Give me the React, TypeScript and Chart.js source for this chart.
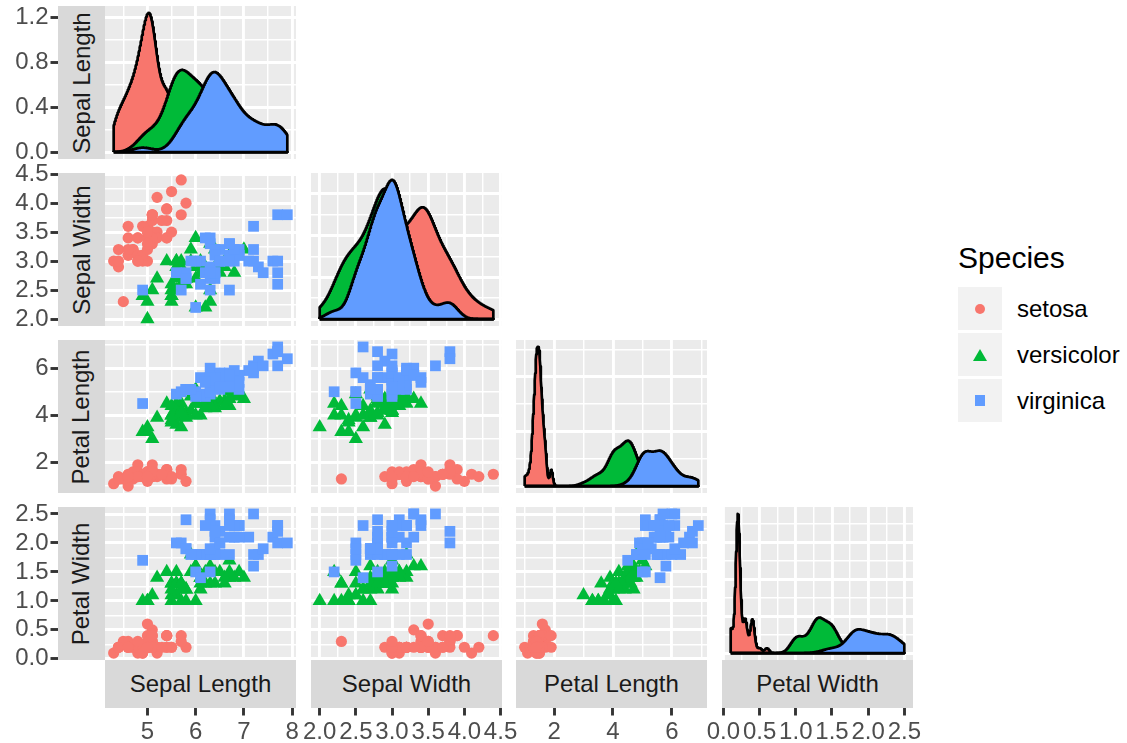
import React, { useEffect, useRef } from 'react';
import { Chart, registerables } from 'chart.js';

Chart.register(...registerables);
Chart.defaults.font.family = "'Liberation Sans', Arial, sans-serif";

// ---------------- DATA (Edgar Anderson's iris) ----------------
const speciesNames = ['setosa', 'versicolor', 'virginica'];
const speciesColors = ['#F8766D', '#00BA38', '#619CFF'];
const variableLabels = ['Sepal Length', 'Sepal Width', 'Petal Length', 'Petal Width'];

const setosaSepalLength = [5.1, 4.9, 4.7, 4.6, 5.0, 5.4, 4.6, 5.0, 4.4, 4.9, 5.4, 4.8, 4.8, 4.3, 5.8, 5.7, 5.4, 5.1, 5.7, 5.1, 5.4, 5.1, 4.6, 5.1, 4.8, 5.0, 5.0, 5.2, 5.2, 4.7, 4.8, 5.4, 5.2, 5.5, 4.9, 5.0, 5.5, 4.9, 4.4, 5.1, 5.0, 4.5, 4.4, 5.0, 5.1, 4.8, 5.1, 4.6, 5.3, 5.0];
const setosaSepalWidth = [3.5, 3.0, 3.2, 3.1, 3.6, 3.9, 3.4, 3.4, 2.9, 3.1, 3.7, 3.4, 3.0, 3.0, 4.0, 4.4, 3.9, 3.5, 3.8, 3.8, 3.4, 3.7, 3.6, 3.3, 3.4, 3.0, 3.4, 3.5, 3.4, 3.2, 3.1, 3.4, 4.1, 4.2, 3.1, 3.2, 3.5, 3.6, 3.0, 3.4, 3.5, 2.3, 3.2, 3.5, 3.8, 3.0, 3.8, 3.2, 3.7, 3.3];
const setosaPetalLength = [1.4, 1.4, 1.3, 1.5, 1.4, 1.7, 1.4, 1.5, 1.4, 1.5, 1.5, 1.6, 1.4, 1.1, 1.2, 1.5, 1.3, 1.4, 1.7, 1.5, 1.7, 1.5, 1.0, 1.7, 1.9, 1.6, 1.6, 1.5, 1.4, 1.6, 1.6, 1.5, 1.5, 1.4, 1.5, 1.2, 1.3, 1.4, 1.3, 1.5, 1.3, 1.3, 1.3, 1.6, 1.9, 1.4, 1.6, 1.4, 1.5, 1.4];
const setosaPetalWidth = [0.2, 0.2, 0.2, 0.2, 0.2, 0.4, 0.3, 0.2, 0.2, 0.1, 0.2, 0.2, 0.1, 0.1, 0.2, 0.4, 0.4, 0.3, 0.3, 0.3, 0.2, 0.4, 0.2, 0.5, 0.2, 0.2, 0.4, 0.2, 0.2, 0.2, 0.2, 0.4, 0.1, 0.2, 0.2, 0.2, 0.2, 0.1, 0.2, 0.2, 0.3, 0.3, 0.2, 0.6, 0.4, 0.3, 0.2, 0.2, 0.2, 0.2];

const versicolorSepalLength = [7.0, 6.4, 6.9, 5.5, 6.5, 5.7, 6.3, 4.9, 6.6, 5.2, 5.0, 5.9, 6.0, 6.1, 5.6, 6.7, 5.6, 5.8, 6.2, 5.6, 5.9, 6.1, 6.3, 6.1, 6.4, 6.6, 6.8, 6.7, 6.0, 5.7, 5.5, 5.5, 5.8, 6.0, 5.4, 6.0, 6.7, 6.3, 5.6, 5.5, 5.5, 6.1, 5.8, 5.0, 5.6, 5.7, 5.7, 6.2, 5.1, 5.7];
const versicolorSepalWidth = [3.2, 3.2, 3.1, 2.3, 2.8, 2.8, 3.3, 2.4, 2.9, 2.7, 2.0, 3.0, 2.2, 2.9, 2.9, 3.1, 3.0, 2.7, 2.2, 2.5, 3.2, 2.8, 2.5, 2.8, 2.9, 3.0, 2.8, 3.0, 2.9, 2.6, 2.4, 2.4, 2.7, 2.7, 3.0, 3.4, 3.1, 2.3, 3.0, 2.5, 2.6, 3.0, 2.6, 2.3, 2.7, 3.0, 2.9, 2.9, 2.5, 2.8];
const versicolorPetalLength = [4.7, 4.5, 4.9, 4.0, 4.6, 4.5, 4.7, 3.3, 4.6, 3.9, 3.5, 4.2, 4.0, 4.7, 3.6, 4.4, 4.5, 4.1, 4.5, 3.9, 4.8, 4.0, 4.9, 4.7, 4.3, 4.4, 4.8, 5.0, 4.5, 3.5, 3.8, 3.7, 3.9, 5.1, 4.5, 4.5, 4.7, 4.4, 4.1, 4.0, 4.4, 4.6, 4.0, 3.3, 4.2, 4.2, 4.2, 4.3, 3.0, 4.1];
const versicolorPetalWidth = [1.4, 1.5, 1.5, 1.3, 1.5, 1.3, 1.6, 1.0, 1.3, 1.4, 1.0, 1.5, 1.0, 1.4, 1.3, 1.4, 1.5, 1.0, 1.5, 1.1, 1.8, 1.3, 1.5, 1.2, 1.3, 1.4, 1.4, 1.7, 1.5, 1.0, 1.1, 1.0, 1.2, 1.6, 1.5, 1.6, 1.5, 1.3, 1.3, 1.3, 1.2, 1.4, 1.2, 1.0, 1.3, 1.2, 1.3, 1.3, 1.1, 1.3];

const virginicaSepalLength = [6.3, 5.8, 7.1, 6.3, 6.5, 7.6, 4.9, 7.3, 6.7, 7.2, 6.5, 6.4, 6.8, 5.7, 5.8, 6.4, 6.5, 7.7, 7.7, 6.0, 6.9, 5.6, 7.7, 6.3, 6.7, 7.2, 6.2, 6.1, 6.4, 7.2, 7.4, 7.9, 6.4, 6.3, 6.1, 7.7, 6.3, 6.4, 6.0, 6.9, 6.7, 6.9, 5.8, 6.8, 6.7, 6.7, 6.3, 6.5, 6.2, 5.9];
const virginicaSepalWidth = [3.3, 2.7, 3.0, 2.9, 3.0, 3.0, 2.5, 2.9, 2.5, 3.6, 3.2, 2.7, 3.0, 2.5, 2.8, 3.2, 3.0, 3.8, 2.6, 2.2, 3.2, 2.8, 2.8, 2.7, 3.3, 3.2, 2.8, 3.0, 2.8, 3.0, 2.8, 3.8, 2.8, 2.8, 2.6, 3.0, 3.4, 3.1, 3.0, 3.1, 3.1, 3.1, 2.7, 3.2, 3.3, 3.0, 2.5, 3.0, 3.4, 3.0];
const virginicaPetalLength = [6.0, 5.1, 5.9, 5.6, 5.8, 6.6, 4.5, 6.3, 5.8, 6.1, 5.1, 5.3, 5.5, 5.0, 5.1, 5.3, 5.5, 6.7, 6.9, 5.0, 5.7, 4.9, 6.7, 4.9, 5.7, 6.0, 4.8, 4.9, 5.6, 5.8, 6.1, 6.4, 5.6, 5.1, 5.6, 6.1, 5.6, 5.5, 4.8, 5.4, 5.6, 5.1, 5.1, 5.9, 5.7, 5.2, 5.0, 5.2, 5.4, 5.1];
const virginicaPetalWidth = [2.5, 1.9, 2.1, 1.8, 2.2, 2.1, 1.7, 1.8, 1.8, 2.5, 2.0, 1.9, 2.1, 2.0, 2.4, 2.3, 1.8, 2.2, 2.3, 1.5, 2.3, 2.0, 2.0, 1.8, 2.1, 1.8, 1.8, 1.8, 2.1, 1.6, 1.9, 2.0, 2.2, 1.5, 1.4, 2.3, 2.4, 1.8, 1.8, 2.1, 2.4, 2.3, 1.9, 2.3, 2.5, 2.3, 1.9, 2.0, 2.3, 1.8];

// tick labels (major breaks) for each variable axis
const sepalLengthTicks = [5, 6, 7, 8];
const sepalWidthTicks = [2.0, 2.5, 3.0, 3.5, 4.0, 4.5];
const petalLengthTicks = [2, 4, 6];
const petalWidthTicks = [0.0, 0.5, 1.0, 1.5, 2.0, 2.5];
const tickDecimals = [0, 1, 0, 1];
// density axis breaks of the diagonal panels
const sepalLengthDensityTicks = [0.0, 0.4, 0.8, 1.2];
const sepalWidthDensityTicks = [0.0, 0.4, 0.8];
const petalLengthDensityTicks = [0, 1, 2];
const petalWidthDensityTicks = [0, 2, 4, 6, 8];

const speciesData = [
  [setosaSepalLength, setosaSepalWidth, setosaPetalLength, setosaPetalWidth],
  [versicolorSepalLength, versicolorSepalWidth, versicolorPetalLength, versicolorPetalWidth],
  [virginicaSepalLength, virginicaSepalWidth, virginicaPetalLength, virginicaPetalWidth],
];
const variableTicks = [sepalLengthTicks, sepalWidthTicks, petalLengthTicks, petalWidthTicks];
const densityTicks = [sepalLengthDensityTicks, sepalWidthDensityTicks, petalLengthDensityTicks, petalWidthDensityTicks];

// ---------------- STATS (ggplot-like density) ----------------
function quantile7(sorted: number[], p: number) {
  const h = (sorted.length - 1) * p;
  const lo = Math.floor(h);
  const hi = Math.ceil(h);
  return sorted[lo] + (h - lo) * (sorted[hi] - sorted[lo]);
}
function bwNrd0(x: number[]) {
  const n = x.length;
  const mean = x.reduce((a, b) => a + b, 0) / n;
  const sd = Math.sqrt(x.reduce((a, b) => a + (b - mean) * (b - mean), 0) / (n - 1));
  const s = [...x].sort((a, b) => a - b);
  const iqr = quantile7(s, 0.75) - quantile7(s, 0.25);
  let lo = Math.min(sd, iqr / 1.34);
  if (!(lo > 0)) lo = sd || 1;
  return 0.9 * lo * Math.pow(n, -0.2);
}
function kde(x: number[], grid: number[]) {
  const bw = bwNrd0(x);
  const c = 1 / (x.length * bw * Math.sqrt(2 * Math.PI));
  return grid.map((g) => {
    let s = 0;
    for (const xi of x) {
      const z = (g - xi) / bw;
      s += Math.exp(-0.5 * z * z);
    }
    return s * c;
  });
}

const allValues = (v: number) => speciesData.flatMap((sp) => sp[v]);
const dataRange = [0, 1, 2, 3].map((v) => {
  const a = allValues(v);
  return [Math.min(...a), Math.max(...a)];
});
const axisRange = dataRange.map(([lo, hi]) => {
  const e = 0.05 * (hi - lo);
  return [lo - e, hi + e];
});
const densities = [0, 1, 2, 3].map((v) => {
  const [lo, hi] = dataRange[v];
  const n = 512;
  const grid = Array.from({ length: n }, (_, i) => lo + ((hi - lo) * i) / (n - 1));
  const ys = speciesData.map((sp) => kde(sp[v], grid));
  return { grid, ys };
});
const densityRange = densities.map((d) => {
  const m = Math.max(...d.ys.flat());
  return [-0.05 * m, 1.05 * m];
});

function gridValues(majors: number[], min: number, max: number) {
  const step = majors[1] - majors[0];
  const half = step / 2;
  const out: { value: number; major: boolean }[] = [];
  const kStart = Math.ceil((min - majors[0]) / half - 1e-9);
  const kEnd = Math.floor((max - majors[0]) / half + 1e-9);
  for (let k = kStart; k <= kEnd; k++) {
    out.push({ value: majors[0] + k * half, major: k % 2 === 0 });
  }
  return out;
}

// ---------------- LAYOUT ----------------
const COL_LEFT = [105, 311, 516, 722];
const ROW_TOP = [6, 173, 340, 507];
const PANEL_W = 191;
const PANEL_H = 153;
const STRIP_LEFT = 58;
const STRIP_SIZE = 47;
const BOTTOM_STRIP_TOP = 660;
const BOTTOM_STRIP_H = 48;
const FONT = "'Liberation Sans', Arial, sans-serif";

const pointStyles = ['circle', 'triangle', 'rect'];
const pointRadii = [5.6, 8.2, 7.6];

function panelScale(range: number[], ticks: { value: number; major: boolean }[]) {
  return {
    type: 'linear',
    min: range[0],
    max: range[1],
    ticks: { display: false, autoSkip: false },
    grid: {
      color: '#FFFFFF',
      lineWidth: (ctx: any) => (ctx.tick && ctx.tick.major ? 2.9 : 1.45),
      drawTicks: false,
    },
    border: { display: false },
    afterBuildTicks: (scale: any) => {
      scale.ticks = ticks.map((t) => ({ value: t.value, major: t.major }));
    },
  };
}

const baseOptions = {
  animation: false,
  responsive: false,
  events: [],
  layout: { padding: 0, autoPadding: false },
  plugins: { legend: { display: false }, tooltip: { enabled: false } },
};

function panelConfig(r: number, c: number): any {
  const xr = axisRange[c];
  const xTicks = gridValues(variableTicks[c], xr[0], xr[1]);
  if (r === c) {
    const yr = densityRange[c];
    const yTicks = gridValues(densityTicks[c], yr[0], yr[1]);
    const d = densities[c];
    const datasets = speciesNames
      .map((_, k) => {
        const pts = d.grid.map((x, i) => ({ x, y: d.ys[k][i] }));
        const poly = [{ x: d.grid[0], y: 0 }, ...pts, { x: d.grid[d.grid.length - 1], y: 0 }, { x: d.grid[0], y: 0 }];
        return {
          data: poly,
          borderColor: '#000000',
          borderWidth: 2.7,
          backgroundColor: speciesColors[k],
          fill: 'shape',
          pointRadius: 0,
          tension: 0,
          borderJoinStyle: 'round',
        };
      })
      .reverse();
    return {
      type: 'line',
      data: { datasets },
      options: { ...baseOptions, scales: { x: panelScale(xr, xTicks), y: panelScale(yr, yTicks) } },
    };
  }
  const yr = axisRange[r];
  const yTicks = gridValues(variableTicks[r], yr[0], yr[1]);
  const datasets = speciesNames
    .map((_, k) => ({
      data: speciesData[k][c].map((x, i) => ({ x, y: speciesData[k][r][i] })),
      pointStyle: pointStyles[k],
      pointRadius: pointRadii[k],
      backgroundColor: speciesColors[k],
      borderWidth: 0,
    }))
    .reverse();
  return {
    type: 'scatter',
    data: { datasets },
    options: { ...baseOptions, scales: { x: panelScale(xr, xTicks), y: panelScale(yr, yTicks) } },
  };
}

function axisTickOpts(dec: number, padding: number) {
  return {
    display: true,
    autoSkip: false,
    maxRotation: 0,
    minRotation: 0,
    padding,
    color: '#4D4D4D',
    font: { family: FONT, size: 24 },
    callback: (v: any) => Number(v).toFixed(dec),
  };
}
const axisGrid = {
  display: true,
  drawOnChartArea: false,
  drawTicks: true,
  tickLength: 7.5,
  tickWidth: 2.9,
  tickColor: '#333333',
};

function leftAxisConfig(r: number): any {
  const yr = r === 0 ? densityRange[0] : axisRange[r];
  const values = r === 0 ? sepalLengthDensityTicks : variableTicks[r];
  const dec = r === 0 ? 1 : tickDecimals[r];
  return {
    type: 'scatter',
    data: { datasets: [] },
    options: {
      ...baseOptions,
      layout: { padding: { top: 20, bottom: 20, left: 0, right: 0 }, autoPadding: false },
      scales: {
        x: { type: 'linear', display: false, min: 0, max: 1 },
        y: {
          type: 'linear',
          position: 'left',
          min: yr[0],
          max: yr[1],
          ticks: axisTickOpts(dec, 2),
          grid: axisGrid,
          border: { display: false },
          afterBuildTicks: (scale: any) => {
            scale.ticks = values.map((v) => ({ value: v }));
          },
          afterFit: (scale: any) => {
            scale.width = 58;
          },
        },
      },
    },
  };
}

function bottomAxisConfig(c: number): any {
  const xr = axisRange[c];
  const values = variableTicks[c];
  return {
    type: 'scatter',
    data: { datasets: [] },
    options: {
      ...baseOptions,
      layout: { padding: { top: 0, bottom: 0, left: 25, right: 25 }, autoPadding: false },
      scales: {
        y: { type: 'linear', display: false, min: 0, max: 1 },
        x: {
          type: 'linear',
          position: 'bottom',
          min: xr[0],
          max: xr[1],
          ticks: axisTickOpts(tickDecimals[c], 2),
          grid: axisGrid,
          border: { display: false },
          afterBuildTicks: (scale: any) => {
            scale.ticks = values.map((v) => ({ value: v }));
          },
          afterFit: (scale: any) => {
            scale.height = 35;
          },
        },
      },
    },
  };
}

function ChartBox(props: { left: number; top: number; width: number; height: number; bg?: string; make: () => any }) {
  const ref = useRef<HTMLCanvasElement>(null);
  useEffect(() => {
    const chart = new Chart(ref.current as HTMLCanvasElement, props.make());
    return () => chart.destroy();
  }, []);
  return (
    <canvas
      ref={ref}
      width={props.width}
      height={props.height}
      style={{
        position: 'absolute',
        left: props.left,
        top: props.top,
        width: props.width,
        height: props.height,
        background: props.bg || 'transparent',
      }}
    />
  );
}

function LegendSymbol({ k }: { k: number }) {
  const color = speciesColors[k];
  if (k === 0) return <div style={{ width: 10, height: 10, borderRadius: '50%', background: color }} />;
  if (k === 1)
    return (
      <div
        style={{
          width: 0,
          height: 0,
          borderLeft: '7px solid transparent',
          borderRight: '7px solid transparent',
          borderBottom: `12px solid ${color}`,
        }}
      />
    );
  return <div style={{ width: 10.5, height: 10.5, background: color }} />;
}

export default function App() {
  const panels: JSX.Element[] = [];
  for (let r = 0; r < 4; r++) {
    for (let c = 0; c <= r; c++) {
      panels.push(
        <ChartBox
          key={`p${r}${c}`}
          left={COL_LEFT[c]}
          top={ROW_TOP[r]}
          width={PANEL_W}
          height={PANEL_H}
          bg="#EBEBEB"
          make={() => panelConfig(r, c)}
        />
      );
    }
  }
  return (
    <div
      style={{
        position: 'absolute',
        left: 0,
        top: 0,
        width: 1127,
        height: 743,
        background: '#FFFFFF',
        overflow: 'hidden',
        fontFamily: FONT,
      }}
    >
      {/* left strips */}
      {variableLabels.map((lab, r) => (
        <div
          key={`ls${r}`}
          style={{
            position: 'absolute',
            left: STRIP_LEFT,
            top: ROW_TOP[r],
            width: STRIP_SIZE,
            height: PANEL_H,
            background: '#D9D9D9',
            display: 'flex',
            alignItems: 'center',
            justifyContent: 'center',
          }}
        >
          <span style={{ transform: 'rotate(-90deg)', whiteSpace: 'nowrap', fontSize: 24, color: '#1A1A1A', lineHeight: '24px' }}>
            {lab}
          </span>
        </div>
      ))}
      {/* bottom strips */}
      {variableLabels.map((lab, c) => (
        <div
          key={`bs${c}`}
          style={{
            position: 'absolute',
            left: COL_LEFT[c],
            top: BOTTOM_STRIP_TOP,
            width: PANEL_W,
            height: BOTTOM_STRIP_H,
            background: '#D9D9D9',
            display: 'flex',
            alignItems: 'center',
            justifyContent: 'center',
            fontSize: 24,
            color: '#1A1A1A',
            whiteSpace: 'nowrap',
          }}
        >
          {lab}
        </div>
      ))}
      {panels}
      {/* left axes */}
      {[0, 1, 2, 3].map((r) => (
        <ChartBox key={`la${r}`} left={0} top={ROW_TOP[r] - 20} width={66} height={PANEL_H + 40} make={() => leftAxisConfig(r)} />
      ))}
      {/* bottom axes */}
      {[0, 1, 2, 3].map((c) => (
        <ChartBox key={`ba${c}`} left={COL_LEFT[c] - 25} top={700} width={PANEL_W + 50} height={43} make={() => bottomAxisConfig(c)} />
      ))}
      {/* legend */}
      <div style={{ position: 'absolute', left: 958, top: 243, fontSize: 30, lineHeight: '30px', color: '#000000', whiteSpace: 'nowrap' }}>
        Species
      </div>
      {speciesNames.map((name, k) => (
        <React.Fragment key={`lg${k}`}>
          <div
            style={{
              position: 'absolute',
              left: 958,
              top: 287 + k * 46,
              width: 44,
              height: 43,
              background: '#F2F2F2',
              display: 'flex',
              alignItems: 'center',
              justifyContent: 'center',
            }}
          >
            <LegendSymbol k={k} />
          </div>
          <div
            style={{
              position: 'absolute',
              left: 1017,
              top: 287 + k * 46,
              height: 43,
              display: 'flex',
              alignItems: 'center',
              fontSize: 24,
              color: '#000000',
              whiteSpace: 'nowrap',
            }}
          >
            {name}
          </div>
        </React.Fragment>
      ))}
    </div>
  );
}
